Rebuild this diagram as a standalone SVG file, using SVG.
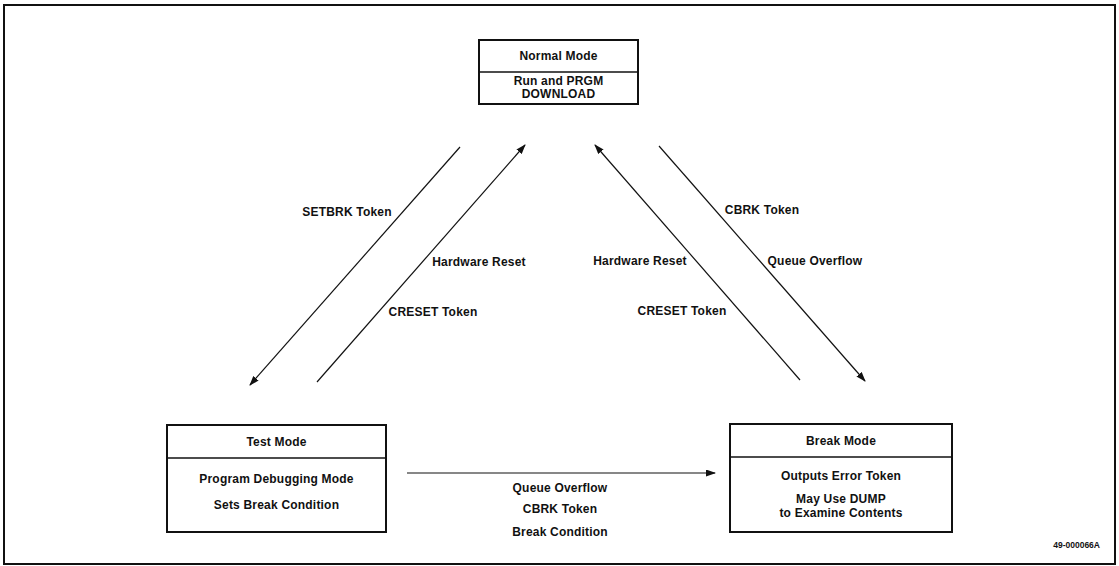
<svg xmlns="http://www.w3.org/2000/svg" width="1119" height="566" viewBox="0 0 1119 566">
<style>
.t{font-family:"Liberation Sans",Arial,Helvetica,sans-serif;font-weight:bold;font-size:12px;letter-spacing:0.2px;fill:#111;text-anchor:middle}
.box{fill:#fff;stroke:#111;stroke-width:2}
.div{stroke:#111;stroke-width:1.6}
.ln{stroke:#111;stroke-width:1.2;fill:none;marker-end:url(#ah)}
.small{font-family:"Liberation Sans",Arial,sans-serif;font-weight:bold;font-size:8.5px;fill:#111;text-anchor:end}
</style>
<defs>
<marker id="ah" markerUnits="userSpaceOnUse" markerWidth="10" markerHeight="7" refX="9" refY="3.5" orient="auto">
<path d="M0,0 L10,3.5 L0,7 z" fill="#111"/>
</marker>
</defs>
<rect x="0" y="0" width="1119" height="566" fill="#fff"/>
<rect x="4" y="5" width="1111" height="559" fill="none" stroke="#111" stroke-width="2"/>
<g id="normal-mode">
<rect class="box" x="479" y="40" width="159" height="64"/>
<line class="div" x1="479" y1="72" x2="638" y2="72"/>
<text class="t" x="558.5" y="60">Normal Mode</text>
<text class="t" x="558.5" y="85">Run and PRGM</text>
<text class="t" x="558.5" y="98">DOWNLOAD</text>
</g>
<g id="test-mode">
<rect class="box" x="167" y="425" width="219" height="107"/>
<line class="div" x1="167" y1="458" x2="386" y2="458"/>
<text class="t" x="276.5" y="446">Test Mode</text>
<text class="t" x="276.5" y="483">Program Debugging Mode</text>
<text class="t" x="276.5" y="509">Sets Break Condition</text>
</g>
<g id="break-mode">
<rect class="box" x="730" y="424" width="222" height="108"/>
<line class="div" x1="730" y1="457" x2="952" y2="457"/>
<text class="t" x="841" y="445">Break Mode</text>
<text class="t" x="841" y="480">Outputs Error Token</text>
<text class="t" x="841" y="503">May Use DUMP</text>
<text class="t" x="841" y="517">to Examine Contents</text>
</g>
<g id="connectors">
<line class="ln" x1="460" y1="147" x2="250" y2="385"/>
<line class="ln" x1="317" y1="382" x2="525" y2="145"/>
<line class="ln" x1="800" y1="380" x2="595" y2="145"/>
<line class="ln" x1="659" y1="146" x2="865" y2="381"/>
<line class="ln" x1="407" y1="473" x2="715" y2="473"/>
</g>
<g id="labels">
<text class="t" x="347" y="216">SETBRK Token</text>
<text class="t" x="479" y="266">Hardware Reset</text>
<text class="t" x="433" y="316">CRESET Token</text>
<text class="t" x="762" y="214">CBRK Token</text>
<text class="t" x="815" y="265">Queue Overflow</text>
<text class="t" x="640" y="265">Hardware Reset</text>
<text class="t" x="682" y="315">CRESET Token</text>
<text class="t" x="560" y="492">Queue Overflow</text>
<text class="t" x="560" y="513">CBRK Token</text>
<text class="t" x="560" y="536">Break Condition</text>
</g>
<text class="small" x="1100" y="548">49-000066A</text>
</svg>
